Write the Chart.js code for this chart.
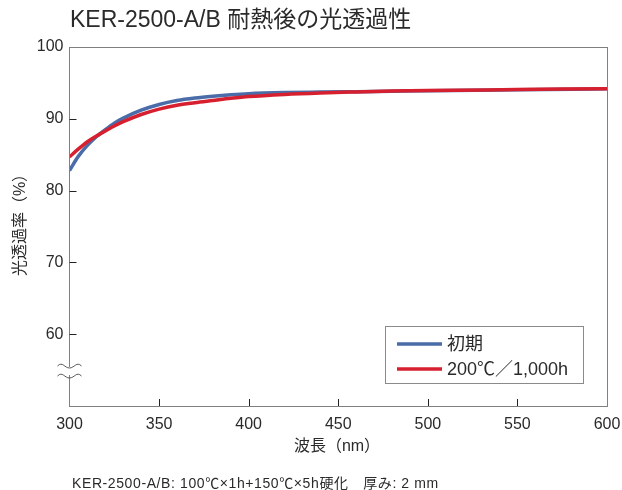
<!DOCTYPE html>
<html>
<head>
<meta charset="utf-8">
<script src="https://cdn.jsdelivr.net/npm/chart.js@4/dist/chart.umd.min.js"></script>
<style>
  body { margin: 0; background: #fff; }
  #wrap { position: relative; width: 622px; height: 490px; }
</style>
</head>
<body>
<div id="wrap"><canvas id="chart"></canvas></div>
<script>
// wavelengths (nm) and transmittance (%)
const wavelengths = [300, 305, 310, 315, 320, 325, 330, 340, 350, 360, 370, 380, 390, 400, 420, 440, 460, 480, 500, 550, 600];
const initialValues = [82.8, 84.8, 86.3, 87.5, 88.5, 89.4, 90.1, 91.2, 92.0, 92.55, 92.9, 93.15, 93.35, 93.5, 93.65, 93.72, 93.78, 93.84, 93.9, 94.03, 94.17];
const agedValues = [84.7, 85.8, 86.8, 87.6, 88.3, 89.0, 89.6, 90.6, 91.35, 91.9, 92.25, 92.55, 92.85, 93.1, 93.4, 93.6, 93.74, 93.86, 93.94, 94.07, 94.2];
const seriesLabels = ['初期', '200℃／1,000h'];
const xTicks = [300, 350, 400, 450, 500, 550, 600];
const yTicks = [60, 70, 80, 90, 100];

const FONT = '"Liberation Sans", "Noto Sans CJK JP", sans-serif';
const TEXT = '#2a2a2a';
const AXIS = '#808080';

const toPoints = (vals) => wavelengths.map((x, i) => ({ x: x, y: vals[i] }));

// box, inward ticks, axis break, titles, legend
const decorations = {
  id: 'decorations',
  afterDraw(chart) {
    const ctx = chart.ctx;
    const a = chart.chartArea;
    const xs = chart.scales.x, ys = chart.scales.y;
    ctx.save();
    ctx.strokeStyle = AXIS;
    ctx.lineWidth = 1;
    ctx.strokeRect(Math.round(a.left) - 0.5, Math.round(a.top) + 0.5, Math.round(a.right - a.left), Math.round(a.bottom - a.top));

    ctx.strokeStyle = '#222';
    ctx.beginPath();
    yTicks.forEach(v => {
      const y = Math.round(ys.getPixelForValue(v)) + 0.5;
      if (v < 100) { ctx.moveTo(a.left, y); ctx.lineTo(a.left + 7, y); }
    });
    xTicks.forEach(v => {
      const x = Math.round(xs.getPixelForValue(v)) + 0.5;
      if (v > 300 && v < 600) { ctx.moveTo(x, a.bottom); ctx.lineTo(x, a.bottom - 7); }
    });
    ctx.stroke();

    // axis break marks
    const bx = Math.round(a.left) - 0.5;
    ctx.fillStyle = '#fff';
    ctx.fillRect(bx - 2, 367, 4, 8);
    ctx.strokeStyle = '#555';
    ctx.lineWidth = 1;
    [366, 376].forEach(by => {
      ctx.beginPath();
      ctx.moveTo(bx - 12, by);
      ctx.bezierCurveTo(bx - 7, by - 5, bx - 5, by + 2, bx, by + 2);
      ctx.bezierCurveTo(bx + 5, by + 2, bx + 7, by - 5, bx + 12, by);
      ctx.stroke();
    });

    // texts
    ctx.fillStyle = TEXT;
    ctx.textBaseline = 'middle';
    ctx.textAlign = 'left';
    ctx.font = '23px ' + FONT;
    ctx.fillText('KER-2500-A/B 耐熱後の光透過性', 70, 21);
    ctx.textAlign = 'center';
    ctx.font = '16px ' + FONT;
    ctx.fillText('波長（nm）', 337, 447);
    ctx.save();
    ctx.translate(21, 221);
    ctx.rotate(-Math.PI / 2);
    ctx.fillText('光透過率（%）', 0, 0);
    ctx.restore();
    ctx.textAlign = 'left';
    ctx.font = '14px ' + FONT;
    ctx.letterSpacing = '0.6px';
    ctx.fillText('KER-2500-A/B: 100℃×1h+150℃×5h硬化　厚み: 2 mm', 72, 484);
    ctx.letterSpacing = '0px';

    // legend
    ctx.strokeStyle = '#8a8a8a';
    ctx.lineWidth = 1;
    ctx.strokeRect(385.5, 326.5, 198, 57);
    chart.data.datasets.forEach((ds, i) => {
      const ly = 344 + i * 25;
      ctx.strokeStyle = ds.borderColor;
      ctx.lineWidth = 3.5;
      ctx.beginPath();
      ctx.moveTo(397, ly);
      ctx.lineTo(442, ly);
      ctx.stroke();
      ctx.fillStyle = TEXT;
      ctx.font = '18px ' + FONT;
      ctx.fillText(ds.label, 447, ly + 1);
    });
    ctx.restore();
  }
};

new Chart(document.getElementById('chart'), {
  type: 'line',
  data: {
    datasets: [
      { label: seriesLabels[0], data: toPoints(initialValues), borderColor: '#4a6ca8', borderWidth: 3.5, pointRadius: 0, cubicInterpolationMode: 'monotone', order: 1 },
      { label: seriesLabels[1], data: toPoints(agedValues), borderColor: '#d7202f', borderWidth: 3.5, pointRadius: 0, cubicInterpolationMode: 'monotone', order: 0 }
    ]
  },
  options: {
    responsive: true,
    maintainAspectRatio: false,
    animation: false,
    layout: { padding: { left: 0, right: 15, top: 47, bottom: 0 } },
    plugins: { legend: { display: false }, tooltip: { enabled: false } },
    scales: {
      x: {
        type: 'linear', min: 300, max: 600,
        afterBuildTicks: s => { s.ticks = xTicks.map(v => ({ value: v })); },
        afterFit: s => { s.height = 84; s.paddingLeft = 0; s.paddingRight = 0; },
        grid: { display: false, drawTicks: false },
        border: { display: false },
        ticks: { padding: 9, color: TEXT, font: { family: FONT, size: 16 } }
      },
      y: {
        type: 'linear', min: 50, max: 100,
        afterBuildTicks: s => { s.ticks = yTicks.map(v => ({ value: v })); },
        afterFit: s => { s.width = 69.5; s.paddingTop = 0; s.paddingBottom = 0; },
        grid: { display: false, drawTicks: false },
        border: { display: false },
        ticks: { padding: 6, color: TEXT, font: { family: FONT, size: 16 } }
      }
    }
  },
  plugins: [decorations]
});
</script>
</body>
</html>
